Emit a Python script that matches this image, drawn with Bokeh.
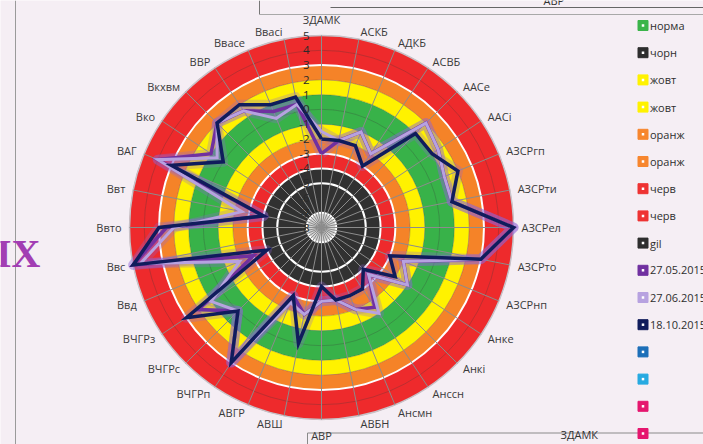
import numpy as np
from bokeh.plotting import figure
from bokeh.models import Range1d
from bokeh.embed import file_html
from bokeh.resources import INLINE
from bokeh.core.properties import value

# ---------------- data ----------------
categories = ["ЗДАМК", "АСКБ", "АДКБ", "АСВБ", "ААСе", "ААСі", "АЗСРгп", "АЗСРти",
              "АЗСРел", "АЗСРто", "АЗСРнп", "Анке", "Анкі", "Анссн", "Ансмн", "АВБН",
              "АВР", "АВШ", "АВГР", "ВЧГРп", "ВЧГРс", "ВЧГРз", "Ввд", "Ввс",
              "Ввто", "Ввт", "ВАГ", "Вко", "Вкхвм", "ВВР", "Ввасе", "Ввасі"]

s_27_05_2015 = [-3, -2, -1, -2, 2, 1.5, 1, 1, 5, 3, -2, -1, -3.5, -1.5, -2, -3,
                -3, -2, -3, 3, 0, 2, -3, 5, 2.5, -4, 4, 1, 2, 1.5, 0.5, 0.5]
s_27_06_2015 = [-1.5, -2, -1, -2, 2, 1.5, 1, 1, 5, 3, -2, -1, -3.5, -1, -2, -3,
                -3, -2, -2.5, 3, 0, 1, -2, 4.5, 2, -2.5, 4, 0.5, 2, 1.5, 0, 0.5]
s_18_10_2015 = [-2, -2, -2, -3, 1, 1, 2, 1, 5, 3, -3, -2, -4, -3, -3, -3,
                -4, 0, -3, 3, 0, 3, -4, 5, 3, -4, 3, 0, 2, 2, 1, 1]

series_names = ["27.05.2015", "27.06.2015", "18.10.2015"]
series_colors = ["#7030A0", "#B7A2E0", "#101C5C"]

radial_ticks = [5, 4, 3, 2, 1, 0, -1, -2, -3, -4, -5, -6, -7, -8]
r_min, r_max = -8, 5

# colour bands (filled series: норма, чорн, жовт, оранж, черв, gil)
band_from = [-8, -7, -4, -3, -2, -1, 1, 2, 3]
band_to = [-7, -4, -3, -2, -1, 1, 2, 3, 5]
band_colors = ["#D4D4D4", "#313131", "#EE2A2C", "#F58328", "#FFF200",
               "#38B249", "#FFF200", "#F58328", "#EE2A2C"]
white_rings = [3, -3, -4, -5, -7]

legend_names = ["норма", "чорн", "жовт", "жовт", "оранж", "оранж", "черв", "черв",
                "gil", "27.05.2015", "27.06.2015", "18.10.2015", "", "", "", ""]
legend_colors = ["#3BB44A", "#2E2E2E", "#FFF200", "#FFF200", "#F7862E", "#F7862E",
                 "#EE3333", "#EE3333", "#2E2E2E", "#7030A0", "#B7A2E0", "#101C5C",
                 "#1C6FB8", "#27AAE1", "#E5166E", "#E5166E"]

# ---------------- geometry ----------------
W, H = 703, 444
PX = 192.0                  # pixels per unit radius (value 5)
CX, CY = 321.0, 227.0       # centre in page pixels
OFF = 0.0


def X(px):
    return (px - CX) / PX


def Y(py):
    return (CY - py) / PX


def rad(v):
    return (np.asarray(v, dtype=float) - r_min) / (r_max - r_min)


n = len(categories)
theta = np.arange(n) * 2 * np.pi / n
sin_t, cos_t = np.sin(theta), np.cos(theta)

p = figure(width=W, height=H, output_backend="svg", toolbar_location=None,
           x_range=Range1d(X(OFF), X(OFF + W)), y_range=Range1d(Y(OFF + H), Y(OFF)),
           min_border=0, outline_line_color=None)
p.axis.visible = False
p.grid.visible = False
bg = "#F5EEF4"
p.background_fill_color = bg
p.border_fill_color = bg

# page decorations
p.segment(x0=[X(259), X(259), X(330), X(15), X(307), X(307)],
          y0=[Y(0), Y(14), Y(7), Y(0), Y(432.5), Y(432.5)],
          x1=[X(259), X(703), X(703), X(15), X(703), X(307)],
          y1=[Y(14), Y(14), Y(7), Y(444), Y(432.5), Y(444)],
          line_color=["#777777", "#A8A8A8", "#666666", "#9A9A9A", "#8A8A8A", "#8A8A8A"],
          line_width=1)
p.text(x=[X(543), X(560)], y=[Y(7), Y(441)], text=["АВР", "ЗДАМК"],
       text_font=value("Open Sans"), text_font_size="11px", text_color="#333333",
       text_align="left", text_baseline="bottom")
p.text(x=[X(40)], y=[Y(253)], text=["IX"], text_font=value("Liberation Serif"),
       text_font_style="bold", text_font_size="40px", text_color="#A23DB3",
       text_align="right", text_baseline="alphabetic")

# colour bands
p.annulus(x=[0] * len(band_from), y=[0] * len(band_from),
          inner_radius=list(rad(band_from)), outer_radius=list(rad(band_to)),
          fill_color=band_colors, line_color=None)

# grid circles
p.circle(x=[0] * len(radial_ticks), y=[0] * len(radial_ticks),
         radius=list(rad(radial_ticks)), fill_color=None,
         line_color="#3A3A3A", line_alpha=0.35, line_width=0.8)
# white rings
p.circle(x=[0] * len(white_rings), y=[0] * len(white_rings),
         radius=list(rad(white_rings)), fill_color=None,
         line_color="white", line_width=2)
p.circle(x=[0], y=[0], radius=[1.0], fill_color=None, line_color="#C9C2C8", line_width=1.5)

# spokes
p.segment(x0=[0] * n, y0=[0] * n, x1=list(sin_t), y1=list(cos_t),
          line_color="#8C8C8C", line_width=1)

# data series (glow, then lines)
all_series = [s_27_05_2015, s_27_06_2015, s_18_10_2015]
widths = [3.5, 3.0, 3.5]
for vals in all_series:
    r = rad(vals)
    xs = list(r * sin_t) + [r[0] * sin_t[0]]
    ys = list(r * cos_t) + [r[0] * cos_t[0]]
    p.line(xs, ys, line_color="#8F66D6", line_alpha=0.28, line_width=10, line_join="round")
for vals, col, w in zip(all_series, series_colors, widths):
    r = rad(vals)
    xs = list(r * sin_t) + [r[0] * sin_t[0]]
    ys = list(r * cos_t) + [r[0] * cos_t[0]]
    p.line(xs, ys, line_color=col, line_width=w, line_join="miter")

# radial tick labels
p.text(x=[X(CX - 12)] * len(radial_ticks), y=list(rad(radial_ticks)),
       text=[str(t) for t in radial_ticks], text_font=value("Open Sans"),
       text_font_size="11.5px", text_color="#2A2A2A",
       text_align="right", text_baseline="middle")

# category labels
lab_x, lab_y, lab_align = [], [], []
for s, c in zip(sin_t, cos_t):
    if abs(s) < 0.01:
        rr = 208 / PX
        al = "center"
    else:
        rr = 200 / PX
        al = "left" if s > 0 else "right"
    lab_x.append(rr * s)
    lab_y.append(rr * c)
    lab_align.append(al)
p.text(x=lab_x, y=lab_y, text=categories, text_font=value("Open Sans"),
       text_font_size="11px", text_color="#3A3A3A", text_align=lab_align,
       text_baseline="middle")

# legend
ly = [25 + 27.2 * i for i in range(len(legend_names))]
p.scatter(x=[X(642.5)] * len(ly), y=[Y(v) for v in ly], marker="square", size=10,
          fill_color=legend_colors, line_color=legend_colors)
p.scatter(x=[X(642.5)] * len(ly), y=[Y(v) for v in ly], marker="square", size=2.5,
          fill_color="white", line_color=None)
p.text(x=[X(649.5)] * len(ly), y=[Y(v) for v in ly], text=legend_names,
       text_font=value("Open Sans"), text_font_size="11px", text_color="#2E2E2E",
       text_align="left", text_baseline="middle")

open("out.html", "w").write(file_html(p, INLINE))
